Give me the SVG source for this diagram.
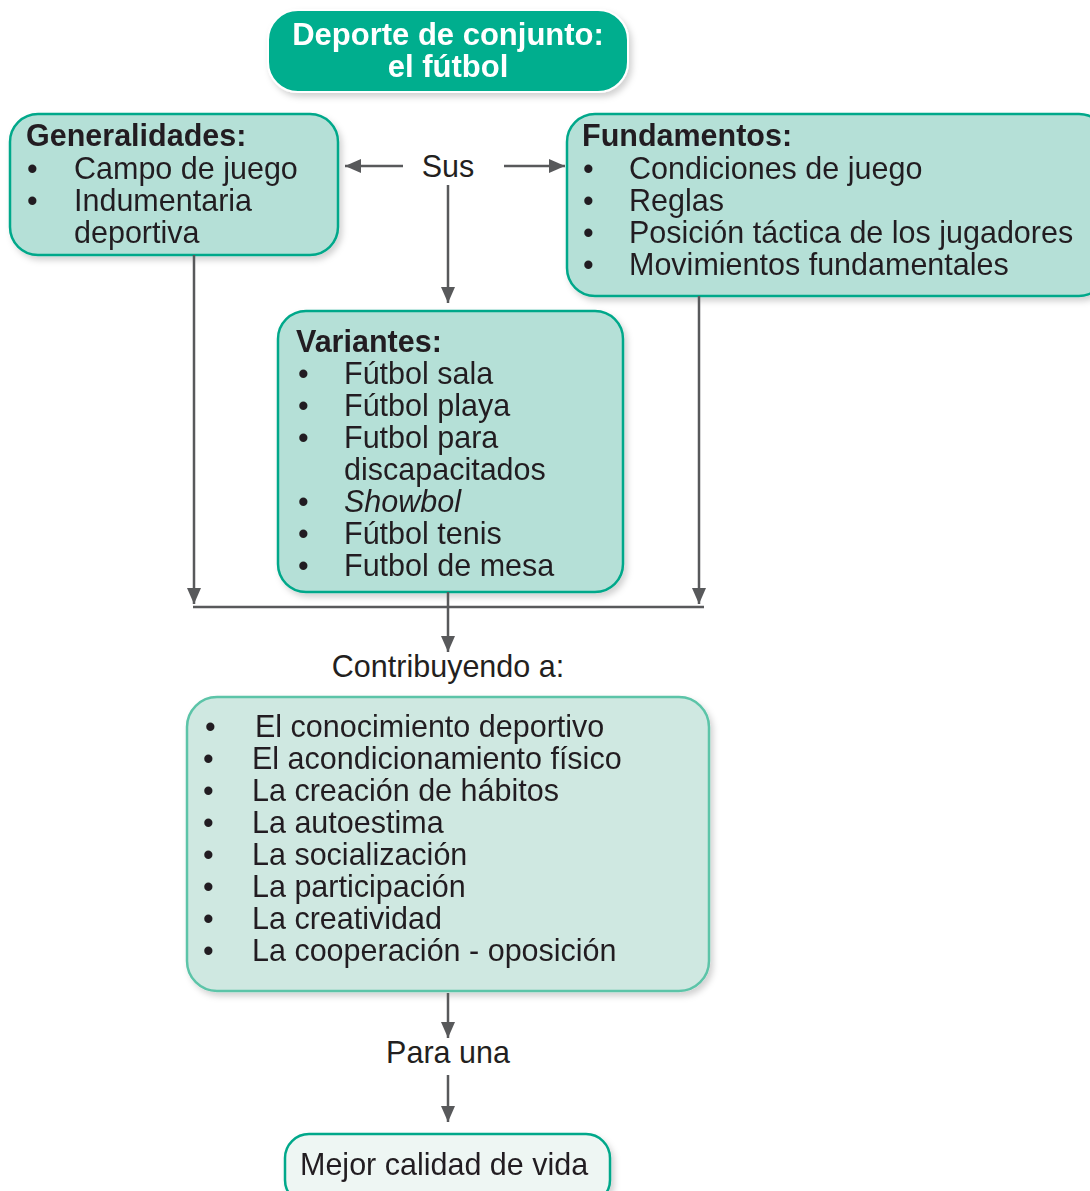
<svg xmlns="http://www.w3.org/2000/svg" width="1090" height="1191" viewBox="0 0 1090 1191">
<defs>
<filter id="sh" x="-10%" y="-10%" width="120%" height="130%">
<feDropShadow dx="3" dy="4" stdDeviation="3" flood-color="#000" flood-opacity="0.18"/>
</filter>
<marker id="ahb" markerWidth="16" markerHeight="14" viewBox="0 0 16 14" refX="16" refY="7" orient="auto" markerUnits="userSpaceOnUse">
<path d="M0,0 L16,7 L0,14 Z" fill="#58595b"/>
</marker>
</defs>
<style>
text{font-family:"Liberation Sans",Arial,sans-serif;fill:#231f20;font-size:30.5px}
.b{font-weight:bold}
.t{fill:#fff;font-weight:bold;font-size:31px}
.i{font-style:italic}
.box{fill:#b5e0d7;stroke:#00a88a;stroke-width:2.5}
.box2{fill:#cfe8e1;stroke:#5cc4a8;stroke-width:2.5}
.box3{fill:#eef6f3;stroke:#00a88a;stroke-width:2.5}
.c{stroke:#58595b;stroke-width:2.5;fill:none}
</style>
<rect width="1090" height="1191" fill="#fff"/>
<g id="title" filter="url(#sh)">
<rect x="268" y="10" width="360" height="82" rx="30" fill="#00ae8e" stroke="#fff" stroke-width="2"/>
<text class="t" text-anchor="middle"><tspan x="448" y="45">Deporte de conjunto:</tspan><tspan x="448" y="77">el fútbol</tspan></text>
</g>
<g id="generalidades" filter="url(#sh)">
<rect class="box" x="10" y="114" width="328" height="141" rx="28"/>
<text><tspan class="b" x="26" y="146">Generalidades:</tspan><tspan x="27" y="179">•</tspan><tspan x="74" y="179">Campo de juego</tspan><tspan x="27" y="211">•</tspan><tspan x="74" y="211">Indumentaria</tspan><tspan x="74" y="243">deportiva</tspan></text>
</g>
<g id="fundamentos" filter="url(#sh)">
<rect class="box" x="567" y="114" width="540" height="182" rx="28"/>
<text><tspan class="b" x="582" y="146">Fundamentos:</tspan><tspan x="583" y="179">•</tspan><tspan x="629" y="179">Condiciones de juego</tspan><tspan x="583" y="211">•</tspan><tspan x="629" y="211">Reglas</tspan><tspan x="583" y="243">•</tspan><tspan x="629" y="243">Posición táctica de los jugadores</tspan><tspan x="583" y="275">•</tspan><tspan x="629" y="275">Movimientos fundamentales</tspan></text>
</g>
<g id="variantes" filter="url(#sh)">
<rect class="box" x="278" y="311" width="345" height="281" rx="28"/>
<text><tspan class="b" x="296" y="352">Variantes:</tspan><tspan x="298" y="384">•</tspan><tspan x="344" y="384">Fútbol sala</tspan><tspan x="298" y="416">•</tspan><tspan x="344" y="416">Fútbol playa</tspan><tspan x="298" y="448">•</tspan><tspan x="344" y="448">Futbol para</tspan><tspan x="344" y="480">discapacitados</tspan><tspan x="298" y="512">•</tspan><tspan class="i" x="344" y="512">Showbol</tspan><tspan x="298" y="544">•</tspan><tspan x="344" y="544">Fútbol tenis</tspan><tspan x="298" y="576">•</tspan><tspan x="344" y="576">Futbol de mesa</tspan></text>
</g>
<g id="sus"><text x="448" y="177" text-anchor="middle">Sus</text></g>
<g id="contribuyendo"><text x="448" y="677" text-anchor="middle">Contribuyendo a:</text></g>
<g id="beneficios" filter="url(#sh)">
<rect class="box2" x="187" y="697" width="522" height="294" rx="30"/>
<text><tspan x="205" y="737">•</tspan><tspan x="255" y="737">El conocimiento deportivo</tspan><tspan x="203" y="769">•</tspan><tspan x="252" y="769">El acondicionamiento físico</tspan><tspan x="203" y="801">•</tspan><tspan x="252" y="801">La creación de hábitos</tspan><tspan x="203" y="833">•</tspan><tspan x="252" y="833">La autoestima</tspan><tspan x="203" y="865">•</tspan><tspan x="252" y="865">La socialización</tspan><tspan x="203" y="897">•</tspan><tspan x="252" y="897">La participación</tspan><tspan x="203" y="929">•</tspan><tspan x="252" y="929">La creatividad</tspan><tspan x="203" y="961">•</tspan><tspan x="252" y="961">La cooperación - oposición</tspan></text>
</g>
<g id="para"><text x="448" y="1063" text-anchor="middle">Para una</text></g>
<g id="mejor" filter="url(#sh)">
<rect class="box3" x="285" y="1134" width="325" height="70" rx="24"/>
<text x="300" y="1175">Mejor calidad de vida</text>
</g>
<g id="connectors">
<line class="c" x1="403" y1="166" x2="345" y2="166" marker-end="url(#ahb)"/>
<line class="c" x1="504" y1="166" x2="565" y2="166" marker-end="url(#ahb)"/>
<line class="c" x1="448" y1="185" x2="448" y2="303" marker-end="url(#ahb)"/>
<line class="c" x1="194" y1="255" x2="194" y2="604" marker-end="url(#ahb)"/>
<line class="c" x1="699" y1="296" x2="699" y2="604" marker-end="url(#ahb)"/>
<line class="c" x1="193" y1="607" x2="704" y2="607"/>
<line class="c" x1="448" y1="592" x2="448" y2="652" marker-end="url(#ahb)"/>
<line class="c" x1="448" y1="993" x2="448" y2="1038" marker-end="url(#ahb)"/>
<line class="c" x1="448" y1="1075" x2="448" y2="1122" marker-end="url(#ahb)"/>
</g>
</svg>
